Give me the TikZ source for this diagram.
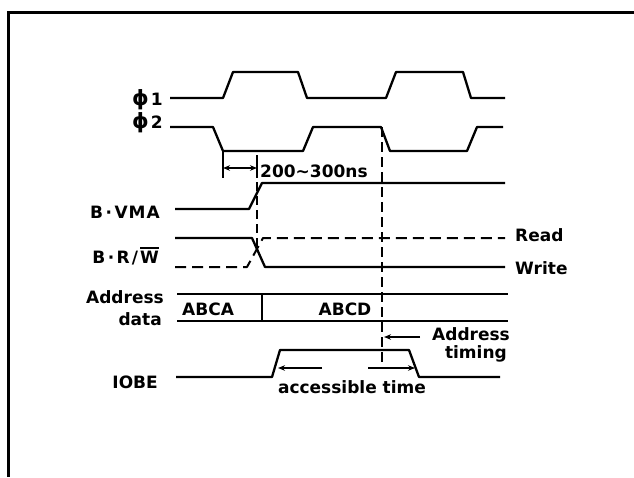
\documentclass[tikz,border=0pt]{standalone}
\usepackage{fontspec}
\setmainfont{DejaVu Sans}
\usetikzlibrary{arrows.meta}
\newcommand{\ovlW}{\setbox0\hbox{W}\rlap{\raisebox{\dimexpr\ht0+1.8pt\relax}{\rule{\wd0}{1.6pt}}}W}
\newcommand{\cdt}{\hspace{2.5pt}·\hspace{2.5pt}}
\newcommand{\bigphi}{{\fontsize{21}{21}\selectfont ϕ}\hspace{2pt}}
\begin{document}
\begin{tikzpicture}[x=1pt,y=-1pt,
  wave/.style={line width=2.3pt, line join=round},
  dsh/.style={line width=2pt, dash pattern=on 11pt off 6pt},
  lbl/.style={font=\fontsize{17}{19}\bfseries\selectfont, inner sep=0pt},
  dimline/.style={line width=1.5pt},
  tipb/.style={{Stealth[length=7pt,width=5.5pt]}-{Stealth[length=7pt,width=5.5pt]}},
  tipe/.style={-{Stealth[length=7pt,width=5.5pt]}}]
\useasboundingbox (0,0) rectangle (634,477);
% frame
\draw[line width=3pt] (634,12) -- (8,12) -- (8,477);
% labels
\node[lbl, anchor=base west] (phi1) at (132,105) {\bigphi 1};
\node[lbl, anchor=base west] (phi2) at (132,128) {\bigphi 2};
\node[lbl, anchor=base east] (vma) at (160,218) {B\cdt V\hspace{1pt}M\hspace{1pt}A};
\node[lbl, anchor=base east] (rw) at (159,263) {B\cdt R\hspace{2pt}/\hspace{2pt}\ovlW};
\node[lbl, anchor=base east] (addr) at (164,303) {Address};
\node[lbl, anchor=base east] (data) at (162,325) {data};
\node[lbl, anchor=base east] (iobe) at (158,388) {IOBE};
\node[lbl, anchor=base west] (read) at (515,241) {Read};
\node[lbl, anchor=base west] (write) at (515,274) {Write};
\node[lbl, anchor=base west] (abca) at (182,315) {ABCA};
\node[lbl, anchor=base] (abcd) at (345,315) {ABCD};
\node[lbl, anchor=base west] (ns) at (260,177) {200∼300ns};
\node[lbl, anchor=base west] (at1) at (432,340) {Address};
\node[lbl, anchor=base east] (at2) at (507,358) {timing};
\node[lbl, anchor=base] (acc) at (352,393) {accessible time};
% phi1
\draw[wave] (170,98) -- (223,98) -- (233,72) -- (298,72) -- (307,98) -- (386,98) -- (396,72) -- (463,72) -- (471,98) -- (505,98);
% phi2
\draw[wave] (170,127) -- (213,127) -- (223,151) -- (303,151) -- (313,127) -- (381,127) -- (390,151) -- (467,151) -- (477,127) -- (503,127);
% VMA
\draw[wave] (175,209) -- (249,209) -- (262,183) -- (505,183);
% R/W
\draw[wave] (175,238) -- (252,238) -- (265,267) -- (505,267);
\draw[wave, dsh] (175,267) -- (247,267) -- (263,238) -- (505,238);
% address/data
\draw[wave] (177,294) -- (508,294);
\draw[wave] (177,321) -- (508,321);
\draw[wave] (262,294) -- (262,321);
% IOBE
\draw[wave] (176,377) -- (272,377) -- (280,350) -- (409,350) -- (419,377) -- (500,377);
% dimension 200-300
\coordinate (t1a) at (223,151);
\coordinate (t1b) at (223,178);
\coordinate (t2a) at (257,155);
\coordinate (t2b) at (257,178);
\draw[dimline] (t1a) -- (t1b);
\draw[dimline] (t2a) -- (t2b);
\draw[dimline, tipb] (223,168) -- (257,168);
\draw[dsh, line width=1.6pt, dash pattern=on 9pt off 5pt] (257,182) -- (257,250);
% second dashed vertical
\coordinate (d2a) at (382,127);
\coordinate (d2b) at (382,362);
\draw[dsh, line width=1.6pt, dash pattern=on 10pt off 5pt] (d2a) -- (d2b);
% address timing arrow
\draw[dimline, tipe] (420,337) -- (384,337);
% accessible time arrows
\draw[dimline, tipe] (322,368) -- (278,368);
\draw[dimline, tipe] (368,368) -- (415,368);
\end{tikzpicture}
\end{document}
